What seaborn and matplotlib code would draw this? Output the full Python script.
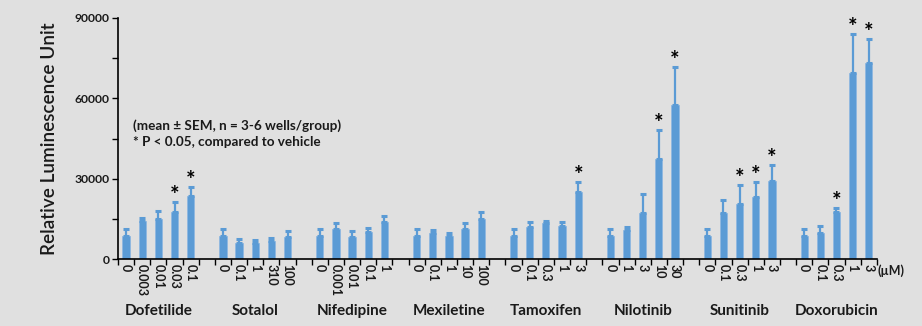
import numpy as np
import pandas as pd
import matplotlib
matplotlib.use("Agg")
import matplotlib.pyplot as plt
import seaborn as sns

drugs = ["Dofetilide", "Sotalol", "Nifedipine", "Mexiletine",
         "Tamoxifen", "Nilotinib", "Sunitinib", "Doxorubicin"]
doses = [["0", "0.003", "0.01", "0.03", "0.1"],
         ["0", "0.1", "1", "310", "100"],
         ["0", "0.001", "0.01", "0.1", "1"],
         ["0", "0.1", "1", "10", "100"],
         ["0", "0.1", "0.3", "1", "3"],
         ["0", "1", "3", "10", "30"],
         ["0", "0.1", "0.3", "1", "3"],
         ["0", "0.1", "0.3", "1", "3"]]
means = [[8700, 14400, 15000, 17600, 23700],
         [8700, 6000, 6000, 6750, 8250],
         [8700, 11250, 8400, 10250, 14000],
         [8700, 9850, 8700, 11250, 15100],
         [8700, 12000, 13600, 12400, 25000],
         [8700, 11100, 17250, 37350, 57400],
         [8700, 17250, 20750, 23100, 29100],
         [8850, 10000, 17750, 69500, 73100]]
sems = [[2650, 1200, 3000, 3800, 3150],
        [2650, 1500, 1250, 1100, 2250],
        [2650, 2500, 2100, 1400, 2100],
        [2750, 1250, 1150, 2250, 2650],
        [2750, 1850, 900, 1700, 3850],
        [2750, 1000, 7250, 10900, 14350],
        [2650, 5000, 6850, 5600, 6000],
        [2650, 2500, 1600, 14350, 9000]]
signif = [[0, 0, 0, 1, 1],
          [0, 0, 0, 0, 0],
          [0, 0, 0, 0, 0],
          [0, 0, 0, 0, 0],
          [0, 0, 0, 0, 1],
          [0, 0, 0, 1, 1],
          [0, 0, 1, 1, 1],
          [0, 0, 1, 1, 1]]

# build slot table (5 bars per drug + one empty slot between drugs)
rows = []
slot = 0
for gi, d in enumerate(drugs):
    for j in range(5):
        rows.append(dict(slot=slot, drug=d, dose=doses[gi][j], mean=means[gi][j],
                         sem=sems[gi][j], sig=signif[gi][j]))
        slot += 1
    if gi < len(drugs) - 1:
        rows.append(dict(slot=slot, drug="", dose="", mean=np.nan, sem=np.nan, sig=0))
        slot += 1
df = pd.DataFrame(rows)
nslots = len(df)

bg = "#E0E0E0"
blue = "#5B9BD5"
txt = "#1A1A1A"
sns.set_theme(style="white")
plt.rcParams["font.family"] = ["Lato", "DejaVu Sans"]
plt.rcParams["text.color"] = txt

fig = plt.figure(figsize=(9.22, 3.26), dpi=100, facecolor=bg)
ax = fig.add_axes([0.128, 0.204, 0.823, 0.741])
ax.set_facecolor(bg)

sns.barplot(data=df, x="slot", y="mean", order=list(range(nslots)),
            color=blue, saturation=1, width=0.45, ax=ax, errorbar=None,
            edgecolor="#8FB8E0", linewidth=0.6)

valid = df.dropna(subset=["mean"])
ax.errorbar(valid["slot"], valid["mean"],
            yerr=[np.zeros(len(valid)), valid["sem"]],
            fmt="none", ecolor=blue, elinewidth=1.6, capsize=2.5, capthick=2.2)

for _, r in valid.iterrows():
    if r["sig"]:
        ax.text(r["slot"], r["mean"] + r["sem"] - 1500, "*", ha="center",
                va="bottom", fontsize=16, fontweight="bold", color="black")

ax.set_xlim(-0.5, nslots - 0.5)
ax.set_ylim(0, 90000)

# y axis
ax.set_yticks([0, 30000, 60000, 90000])
ax.set_yticks([15000, 45000, 75000], minor=True)
ax.set_yticklabels(["0", "30000", "60000", "90000"], fontsize=8.7,
                   fontweight="bold", color=txt)
ax.tick_params(axis="y", which="both", direction="out", length=4, width=1,
               color="black", left=True, pad=2)
ax.set_ylabel("Relative Luminescence Unit", fontsize=13.6, labelpad=12,
              fontweight="semibold", color=txt)

# x axis: ticks between categories, labels at categories
ax.set_xticks(np.arange(-0.5, nslots, 1.0))
ax.set_xticklabels([])
ax.tick_params(axis="x", which="major", direction="out", length=4, width=1,
               color="black", bottom=True)
ax.set_xticks(np.arange(nslots), minor=True)
ax.set_xticklabels(df["dose"].tolist(), minor=True, rotation=270,
                   fontsize=9, fontweight="bold", ha="center", va="top", color=txt)
ax.tick_params(axis="x", which="minor", length=0, pad=3)
ax.set_xlabel("")

for s in ["top", "right"]:
    ax.spines[s].set_visible(False)
for s in ["left", "bottom"]:
    ax.spines[s].set_color("black")
    ax.spines[s].set_linewidth(1.2)

# drug group labels
for gi, d in enumerate(drugs):
    ax.text(gi * 6 + 2, -0.213, d, transform=ax.get_xaxis_transform(),
            ha="center", va="center", fontsize=11, fontweight="bold")

ax.text(nslots - 0.45, -0.045, "(\u00b5M)", transform=ax.get_xaxis_transform(),
        ha="left", va="center", fontsize=9, fontweight="bold")

ax.text(0.02, 0.52, "(mean \u00b1 SEM, n = 3-6 wells/group)\n* P < 0.05, compared to vehicle",
        transform=ax.transAxes, ha="left", va="center", fontsize=9.7,
        fontweight="bold", linespacing=1.45)

fig.savefig("out.png", dpi=100, facecolor=bg)
